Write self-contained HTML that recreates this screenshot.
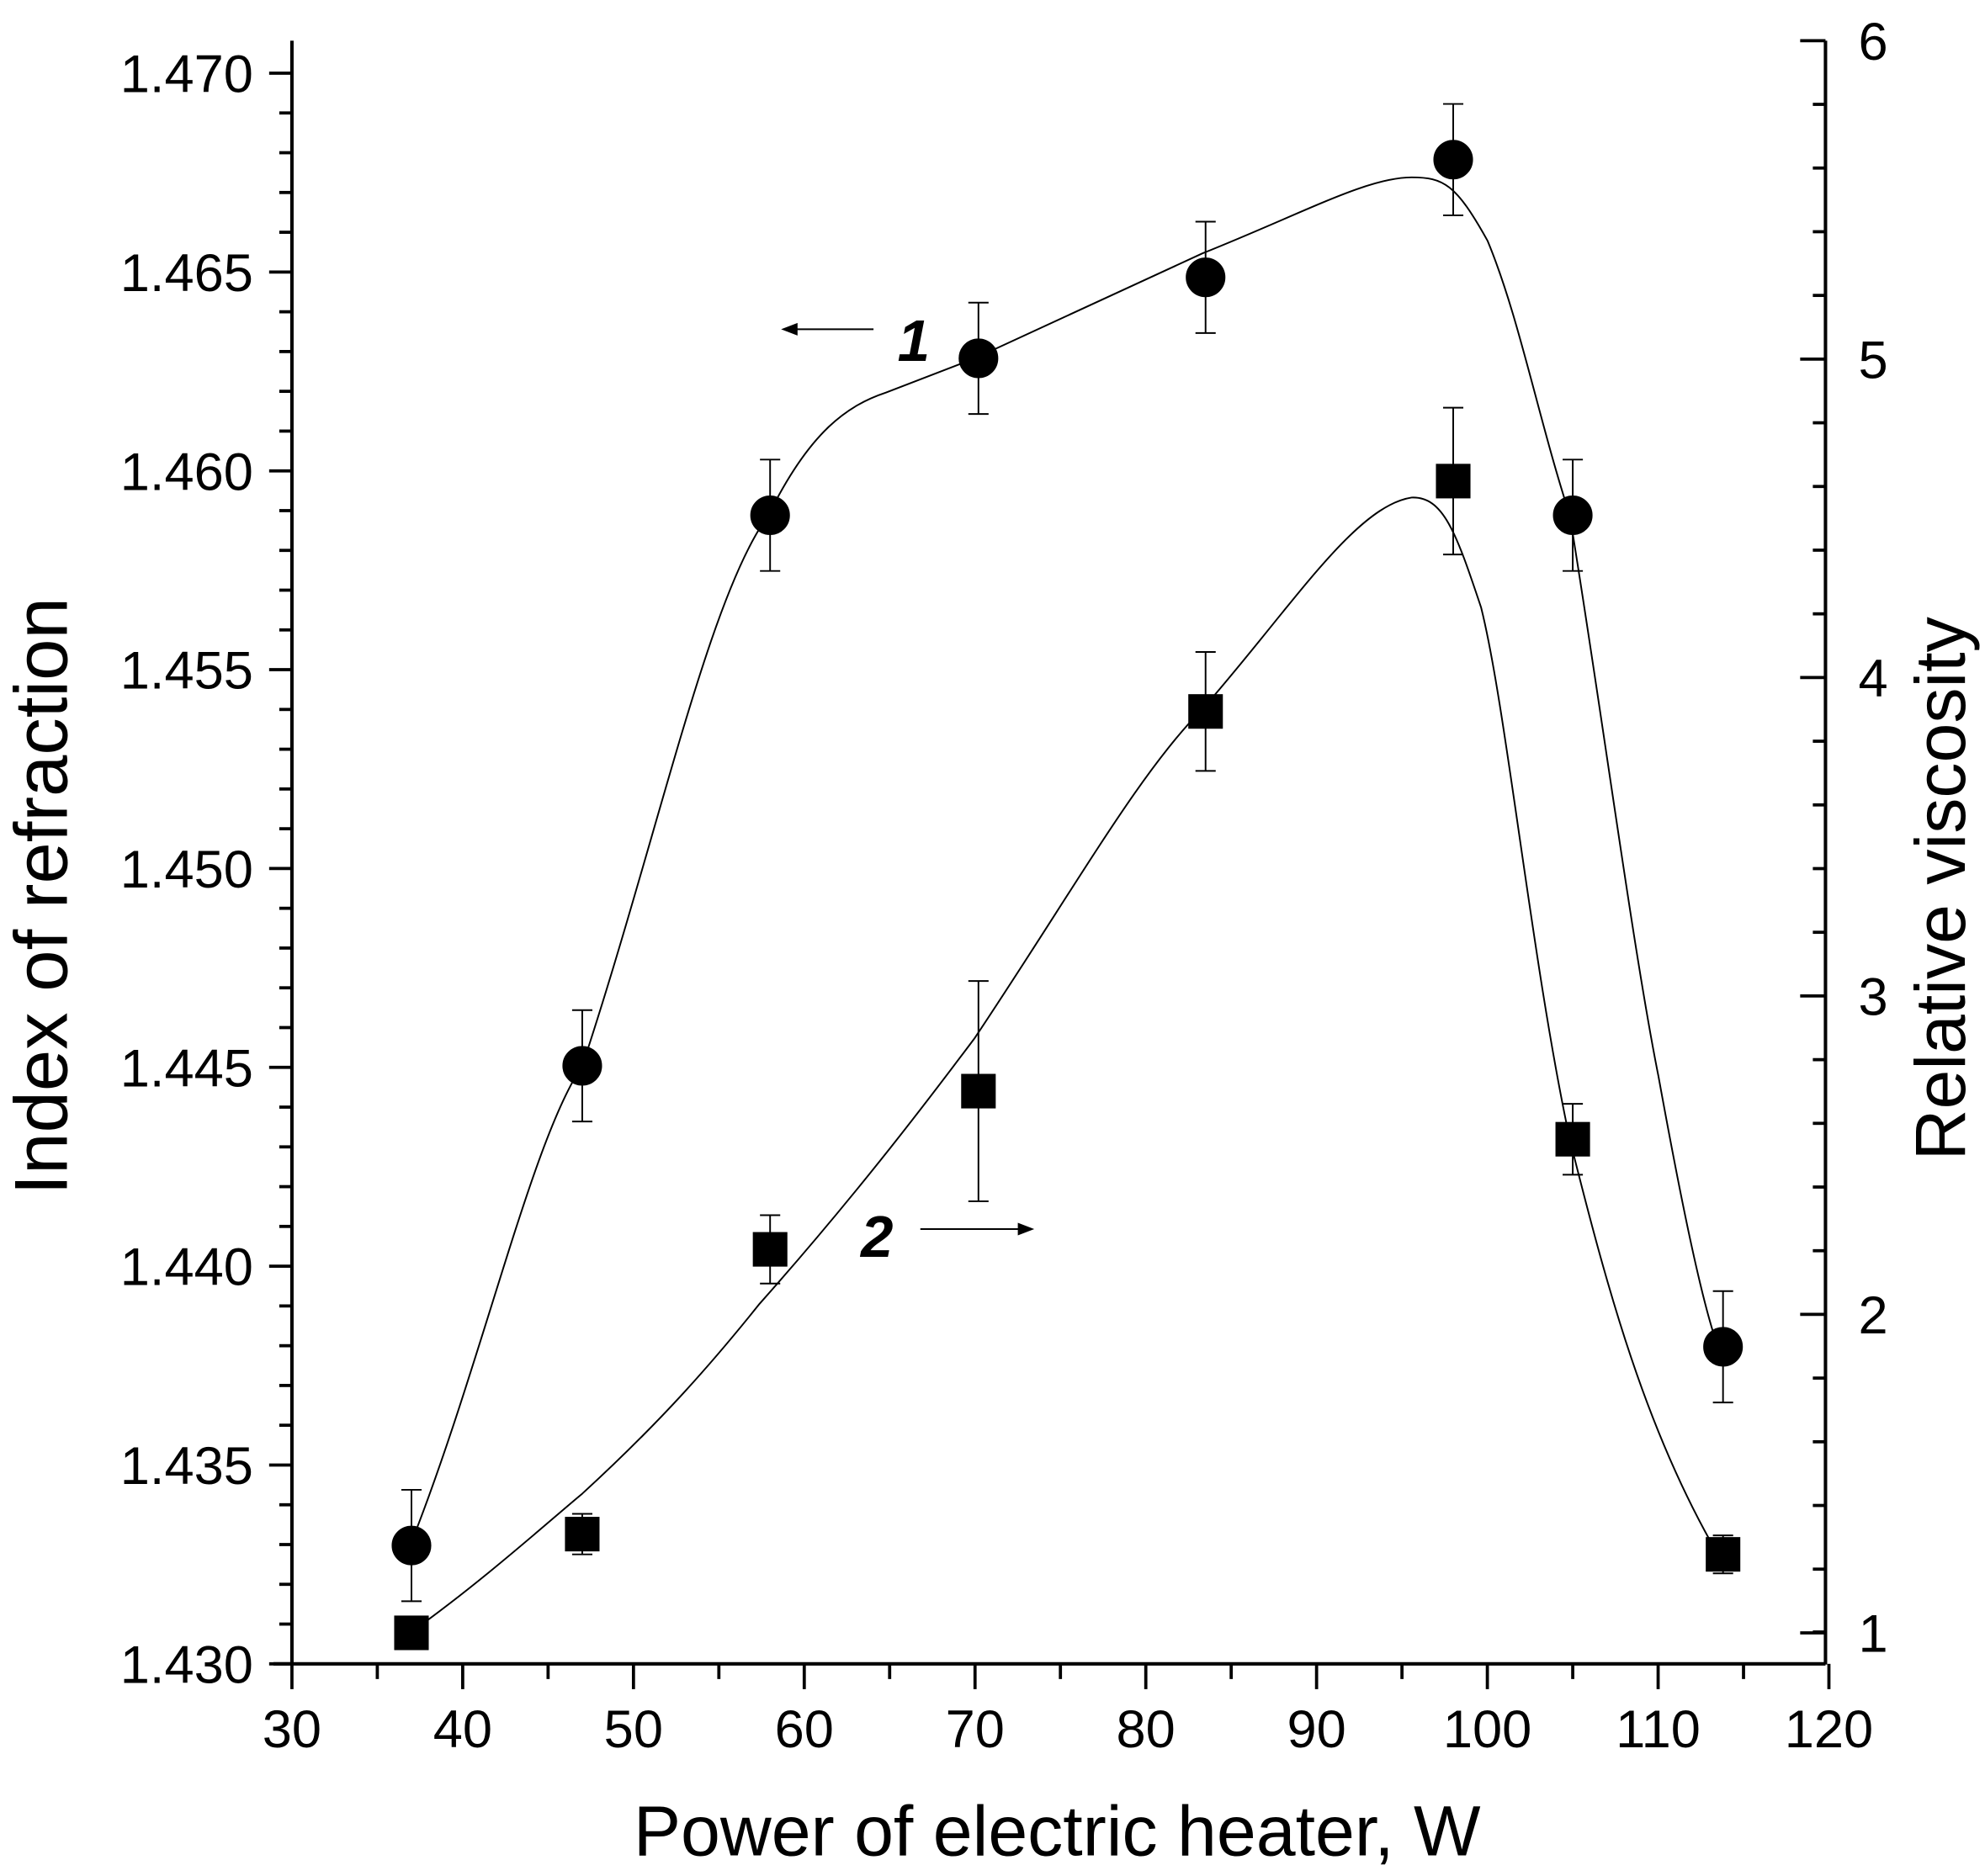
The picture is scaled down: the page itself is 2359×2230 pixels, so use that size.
<!DOCTYPE html>
<html><head><meta charset="utf-8"><style>html,body{margin:0;padding:0;background:#fff}svg{display:block}</style></head>
<body>
<svg width="2359" height="2230" viewBox="0 0 1568 1482" xmlns="http://www.w3.org/2000/svg" font-family="Liberation Sans, Arial, sans-serif">
<rect width="1568" height="1482" fill="#fff"/>
<g stroke="#000" stroke-width="2.7" fill="none">
<line x1="230.6" y1="32" x2="230.6" y2="1315"/>
<line x1="1442" y1="32" x2="1442" y2="1315"/>
<line x1="216" y1="1314.5" x2="1442" y2="1314.5"/>
</g>
<g id="ticks" stroke="#000" stroke-width="2.5"></g>
<g id="labels" font-size="42" fill="#000"></g>
<text x="835" y="1466" font-size="56" text-anchor="middle">Power of electric heater, W</text>
<text transform="translate(53,708) rotate(-90)" font-size="59" text-anchor="middle">Index of refraction</text>
<text transform="translate(1552,702) rotate(-90)" font-size="56" text-anchor="middle">Relative viscosity</text>
<g stroke="#000" stroke-width="1.3" fill="none">
<path d="M324,1221 C380,1080 420,900 460,842 C520,660 560,470 607,407 C640,340 670,320 700,310 L770,283 L950,200 C1030,168 1080,140 1115,140 C1140,140 1150,145 1175,190 C1200,250 1215,330 1240,407 C1265,560 1290,750 1310,850 C1330,960 1345,1030 1357,1064"/>
<path d="M324,1290 C380,1250 430,1205 460,1180 C520,1125 560,1080 600,1030 C680,940 740,860 770,820 C850,700 900,610 950,560 C1020,480 1070,400 1115,393 C1140,392 1150,420 1170,480 C1190,560 1210,760 1240,900 C1270,1020 1300,1130 1357,1228"/>
<path d="M690,260 L628,260"/><path d="M727,971 L806,971"/>
</g>
<polygon points="617,260 630,255 630,265" fill="#000"/>
<polygon points="817,971 804,966 804,976" fill="#000"/>
<text x="709" y="285" font-size="46" font-weight="bold" font-style="italic">1</text>
<text x="680" y="993" font-size="46" font-weight="bold" font-style="italic">2</text>
<g id="data" fill="#000" stroke="#000" stroke-width="1.3"></g>
<script>
var ns="http://www.w3.org/2000/svg";
function el(p,t,a,txt){var e=document.createElementNS(ns,t);for(var k in a)e.setAttribute(k,a[k]);if(txt!=null)e.textContent=txt;p.appendChild(e);return e;}
var T=document.getElementById('ticks'),L=document.getElementById('labels'),D=document.getElementById('data');
var X0=230.6,XS=13.49,YB=1314.5;
for(var v=30;v<=120;v+=5){var x=X0+(v-30)*XS;var maj=v%10==0;el(T,'line',{x1:x,y1:YB,x2:x,y2:YB+(maj?20:12)});if(maj)el(L,'text',{x:x,y:YB+66,'text-anchor':'middle'},v);}
for(var i=0;i<=40;i++){var y=YB-i*31.42;var maj=i%5==0;el(T,'line',{x1:X0,y1:y,x2:X0-(maj?18:10),y2:y});if(maj)el(L,'text',{x:200,y:y+15,'text-anchor':'end'},(1.430+i*0.001).toFixed(3));}
var R1=1290,RS=251.6;
for(var i=0;i<=25;i++){var v=1+i*0.2;var y=R1-(v-1)*RS;var maj=i%5==0;el(T,'line',{x1:1442,y1:y,x2:1442-(maj?20:10),y2:y});if(maj)el(L,'text',{x:1468,y:y+15},Math.round(v));}
el(T,'line',{x1:1442,y1:YB-0.1*RS,x2:1432,y2:YB-0.1*RS});
function px(v){return X0+(v-30)*XS;}
var xs=[37,47,58,70.2,83.5,98,105,113.8];
var cy=[1221,842,407,283,219,126,407,1064];
var sy=[1290,1212,987,862,562,380,900,1228];
var se=[0,16,27,87,47,58,28,15];
for(var i=0;i<8;i++){var x=px(xs[i]);
el(D,'line',{x1:x,y1:cy[i]-44,x2:x,y2:cy[i]+44});el(D,'line',{x1:x-8,y1:cy[i]-44,x2:x+8,y2:cy[i]-44});el(D,'line',{x1:x-8,y1:cy[i]+44,x2:x+8,y2:cy[i]+44});
el(D,'circle',{cx:x,cy:cy[i],r:15});
if(se[i]){el(D,'line',{x1:x,y1:sy[i]-se[i],x2:x,y2:sy[i]+se[i]});el(D,'line',{x1:x-8,y1:sy[i]-se[i],x2:x+8,y2:sy[i]-se[i]});el(D,'line',{x1:x-8,y1:sy[i]+se[i],x2:x+8,y2:sy[i]+se[i]});}
el(D,'rect',{x:x-13,y:sy[i]-13,width:26,height:26});}
</script>
</svg>
</body></html>
